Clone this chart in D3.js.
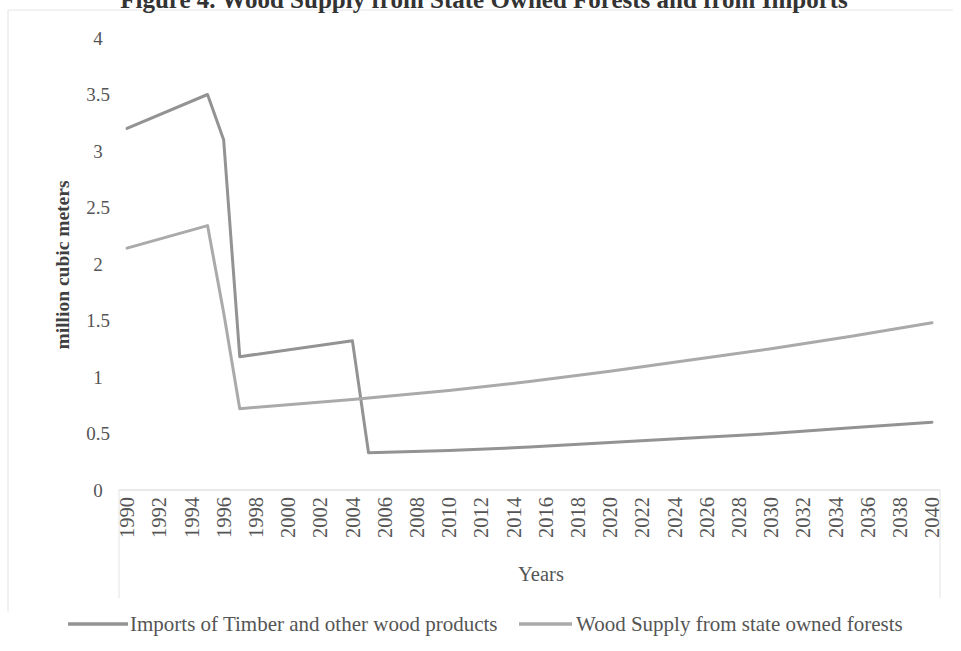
<!DOCTYPE html>
<html>
<head>
<meta charset="utf-8">
<script src="https://cdn.jsdelivr.net/npm/d3@7"></script>
<style>
  html, body { margin: 0; padding: 0; background: #fff; }
  svg { display: block; }
  text { font-family: "Liberation Serif", "Times New Roman", serif; }
</style>
</head>
<body>
<svg id="chart" width="961" height="651"></svg>
<script>
// Category axis: one point per year
const years = d3.range(1990, 2041);
const yearTickLabels = years.filter(y => (y - 1990) % 2 === 0);

// Y axis ticks
const valueTicks = [0, 0.5, 1, 1.5, 2, 2.5, 3, 3.5, 4];
const valueTickLabels = ["0", "0.5", "1", "1.5", "2", "2.5", "3", "3.5", "4"];

// Imports of Timber and other wood products (million m3)
const importsYears  = [1990, 1995, 1996, 1997, 2004, 2005, 2010, 2015, 2020, 2025, 2030, 2035, 2040];
const importsValues = [3.2, 3.5, 3.1, 1.18, 1.32, 0.33, 0.35, 0.38, 0.42, 0.46, 0.50, 0.55, 0.60];

// Wood Supply from state owned forests (million m3)
const stateYears  = [1990, 1995, 1996, 1997, 2004, 2010, 2015, 2020, 2025, 2030, 2035, 2040];
const stateValues = [2.14, 2.34, 1.57, 0.72, 0.80, 0.88, 0.96, 1.05, 1.15, 1.25, 1.36, 1.48];

const seriesNames = ["Imports of Timber and other wood products", "Wood Supply from state owned forests"];
const titleText = "Figure 4. Wood Supply from State Owned Forests and from Imports";

const svg = d3.select("#chart");
const textColor = "#555555";
const colors = ["#939393", "#aaaaaa"];

const plotLeft = 119, plotRight = 940, plotTop = 38, plotBottom = 490;

const x = d3.scalePoint().domain(years).range([plotLeft, plotRight]).padding(0.5);
const y = d3.scaleLinear().domain([0, 4]).range([plotBottom, plotTop]);

// outer frame (partial, light)
svg.append("line").attr("x1", 8).attr("x2", 8).attr("y1", 10).attr("y2", 612)
  .attr("stroke", "#e2e2e2").attr("stroke-width", 1);
svg.append("line").attr("x1", 8).attr("x2", 953).attr("y1", 10).attr("y2", 10)
  .attr("stroke", "#e6e6e6").attr("stroke-width", 1);

// title, running off the top edge
svg.append("text")
  .attr("x", 484).attr("y", 8)
  .attr("text-anchor", "middle")
  .attr("font-size", 25).attr("font-weight", "bold")
  .attr("fill", "#333")
  .text(titleText);

// y tick labels
svg.append("g").selectAll("text").data(valueTicks).join("text")
  .attr("x", 98)
  .attr("y", d => y(d))
  .attr("dy", "0.35em")
  .attr("text-anchor", "middle")
  .attr("font-size", 19)
  .attr("fill", textColor)
  .text((d, i) => valueTickLabels[i]);

// y axis title
svg.append("text")
  .attr("transform", "translate(62, 265) rotate(-90)")
  .attr("text-anchor", "middle")
  .attr("dy", "0.35em")
  .attr("font-size", 19.5).attr("font-weight", "bold")
  .attr("fill", "#404040")
  .text("million cubic meters");

// x axis line and side rules of the label area
svg.append("line").attr("x1", plotLeft).attr("x2", plotRight)
  .attr("y1", plotBottom).attr("y2", plotBottom)
  .attr("stroke", "#d4d4d4").attr("stroke-width", 1.2);
[plotLeft, plotRight].forEach(px => {
  svg.append("line").attr("x1", px).attr("x2", px)
    .attr("y1", plotBottom).attr("y2", 598)
    .attr("stroke", "#e4e4e4").attr("stroke-width", 1);
});

// x tick labels, rotated
svg.append("g").selectAll("text").data(yearTickLabels).join("text")
  .attr("transform", d => `translate(${x(d)}, ${plotBottom + 7}) rotate(-90)`)
  .attr("text-anchor", "end")
  .attr("dy", "0.35em")
  .attr("font-size", 20.5)
  .attr("fill", textColor)
  .text(d => d);

// x axis title
svg.append("text")
  .attr("x", 541).attr("y", 581)
  .attr("text-anchor", "middle")
  .attr("font-size", 20.5)
  .attr("fill", textColor)
  .text("Years");

// series lines
const line = d3.line().x(d => x(d[0])).y(d => y(d[1]));
const series = [
  importsYears.map((yr, i) => [yr, importsValues[i]]),
  stateYears.map((yr, i) => [yr, stateValues[i]])
];
svg.append("g").selectAll("path").data(series).join("path")
  .attr("d", line)
  .attr("fill", "none")
  .attr("stroke", (d, i) => colors[i])
  .attr("stroke-width", 3)
  .attr("stroke-linejoin", "round")
  .attr("stroke-linecap", "round");

// legend
const legendItems = [
  { x1: 68, x2: 128, tx: 130 },
  { x1: 519, x2: 572, tx: 576 }
];
const lg = svg.append("g");
legendItems.forEach((it, i) => {
  lg.append("line").attr("x1", it.x1).attr("x2", it.x2).attr("y1", 624).attr("y2", 624)
    .attr("stroke", colors[i]).attr("stroke-width", 3.5);
  lg.append("text").attr("x", it.tx).attr("y", 631)
    .attr("font-size", 21).attr("fill", textColor)
    .text(seriesNames[i]);
});
</script>
</body>
</html>
